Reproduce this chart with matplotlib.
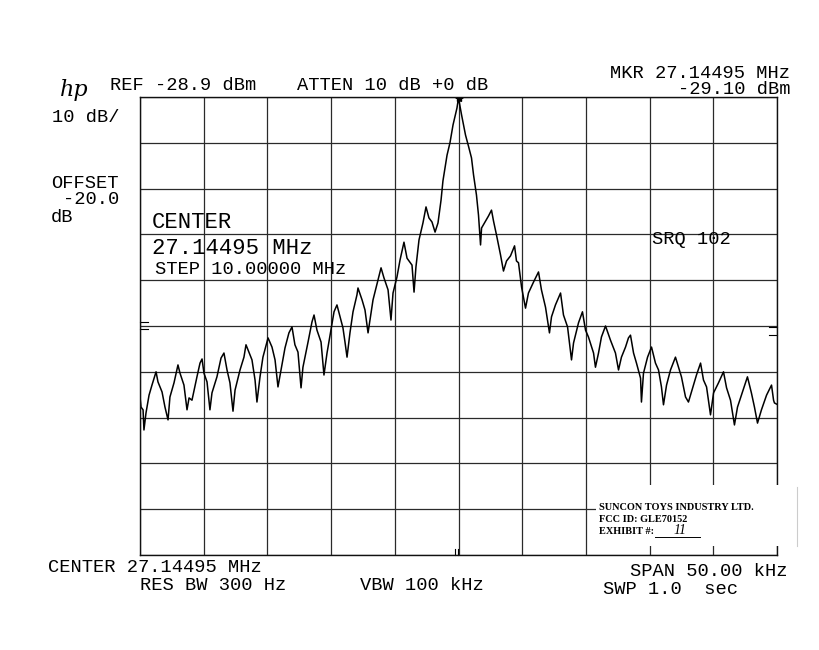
import matplotlib
matplotlib.use("Agg")
import matplotlib.pyplot as plt
from matplotlib.patches import Rectangle
import numpy as np

# spectrum analyser trace, offset from centre (kHz) and level (dBm)
freq_khz = [
    -25.0, -24.92, -24.76, -24.69, -24.53, -24.29, -24.06, -23.82, -23.74, -23.59,
    -23.27, -23.04, -22.80, -22.65, -22.33, -22.02, -21.86, -21.55, -21.31, -21.15,
    -20.92, -20.53, -20.29, -20.13, -19.98, -19.74, -19.51, -19.35, -18.96, -18.64,
    -18.41, -18.17, -17.94, -17.70, -17.54, -17.15, -16.84, -16.68, -16.37, -16.21,
    -15.97, -15.82, -15.58, -15.35, -14.95, -14.64, -14.40, -14.17, -13.93, -13.62,
    -13.31, -13.07, -12.84, -12.60, -12.36, -12.21, -11.81, -11.50, -11.34, -11.11,
    -10.79, -10.56, -10.32, -10.01, -9.77, -9.54, -9.30, -9.07, -8.91, -8.75,
    -8.52, -8.28, -7.97, -7.89, -7.57, -7.34, -7.10, -6.95, -6.71, -6.32,
    -6.08, -5.85, -5.53, -5.30, -5.14, -4.83, -4.59, -4.28, -4.04, -3.65,
    -3.49, -3.34, -3.10, -2.79, -2.55, -2.32, -2.08, -1.84, -1.61, -1.37,
    -1.22, -0.90, -0.67, -0.43, -0.12, 0.0, 0.24, 0.55, 0.78, 1.02,
    1.18, 1.41, 1.57, 1.73, 1.81, 2.12, 2.35, 2.59, 2.75, 2.98,
    3.30, 3.53, 3.77, 4.08, 4.40, 4.55, 4.71, 4.95, 5.26, 5.49,
    5.89, 6.28, 6.51, 6.83, 7.14, 7.30, 7.61, 8.01, 8.24, 8.56,
    8.87, 9.03, 9.42, 9.73, 9.97, 10.20, 10.60, 10.75, 10.99, 11.22,
    11.54, 11.93, 12.32, 12.56, 12.79, 13.11, 13.34, 13.50, 13.74, 13.97,
    14.29, 14.36, 14.52, 14.84, 15.15, 15.46, 15.70, 15.93, 16.09, 16.33,
    16.64, 17.03, 17.27, 17.50, 17.82, 18.05, 18.45, 18.68, 19.00, 19.23,
    19.47, 19.78, 20.02, 20.41, 20.80, 21.04, 21.35, 21.66, 21.90, 22.29,
    22.68, 22.99, 23.23, 23.47, 23.78, 24.18, 24.57, 24.73, 24.80, 25.0,
]
level_dbm = [
    -94.4, -96.6, -97.2, -101.6, -97.9, -94.0, -91.8, -89.6, -88.9, -91.1,
    -93.3, -96.6, -99.4, -94.4, -91.3, -87.4, -89.2, -91.8, -97.2, -94.6,
    -95.1, -90.0, -87.0, -86.1, -89.2, -91.1, -97.2, -93.5, -90.0, -85.9,
    -84.8, -88.5, -91.3, -97.5, -92.9, -88.5, -85.7, -83.0, -85.2, -86.3,
    -90.7, -95.5, -90.0, -85.7, -81.5, -83.5, -86.3, -92.2, -88.5, -83.7,
    -80.4, -79.1, -83.0, -84.6, -92.4, -87.9, -82.4, -78.0, -76.5, -79.8,
    -82.4, -89.6, -84.8, -79.8, -75.8, -74.3, -76.9, -79.3, -82.4, -85.7,
    -80.4, -75.8, -72.1, -70.6, -73.2, -75.4, -80.4, -77.6, -73.2, -68.9,
    -66.2, -68.4, -71.0, -77.6, -71.7, -68.2, -64.5, -60.6, -64.1, -65.6,
    -71.5, -66.0, -60.1, -56.4, -52.9, -55.3, -56.2, -58.4, -56.4, -51.4,
    -47.2, -41.6, -38.9, -35.0, -31.3, -29.1, -32.8, -37.2, -39.6, -42.2,
    -45.9, -50.3, -54.7, -61.2, -57.5, -56.0, -54.9, -53.6, -56.0, -59.0,
    -63.4, -66.9, -64.7, -63.6, -61.4, -64.7, -65.1, -70.4, -75.0, -71.7,
    -69.3, -67.1, -71.0, -74.8, -80.4, -76.9, -74.3, -71.7, -76.5, -79.1,
    -86.3, -82.6, -78.2, -75.8, -79.8, -81.3, -84.8, -87.9, -84.8, -81.3,
    -78.9, -82.0, -84.8, -88.5, -85.7, -83.5, -81.5, -80.9, -84.8, -87.0,
    -90.3, -95.5, -89.2, -85.7, -83.5, -87.0, -88.5, -92.2, -96.1, -91.8,
    -88.5, -85.7, -87.9, -90.0, -94.4, -95.5, -91.8, -89.6, -87.0, -90.7,
    -92.2, -98.3, -93.5, -91.3, -88.9, -92.4, -95.1, -100.5, -96.6, -93.3,
    -90.0, -93.5, -96.6, -100.1, -97.2, -94.0, -91.8, -95.1, -95.7, -96.0,
]

ref_level = -28.9
db_per_div = 10
span_khz = 50.0
marker_khz = 0.0
marker_dbm = -29.10

W, H = 819, 650
mono = "Liberation Mono"
fs = 13.5


def px(x, y):
    return x / W, 1 - y / H


fig = plt.figure(figsize=(W / 100, H / 100), dpi=100)
fig.set_facecolor("white")
ax = fig.add_axes([140 / W, 1 - 555 / H, 637 / W, 458 / H])

ax.plot(freq_khz, level_dbm, color="black", linewidth=1.1)
ax.plot([marker_khz], [marker_dbm], marker="*", color="black", markersize=6)

ax.set_xlim(-span_khz / 2, span_khz / 2)
ax.set_ylim(ref_level - 10 * db_per_div, ref_level)
ax.set_xticks(np.arange(-25, 26, 5))
ax.set_yticks(np.arange(ref_level - 100, ref_level + 1, db_per_div))
ax.grid(True, color="#2a2a2a", linewidth=0.9)
ax.tick_params(length=0, labelbottom=False, labelleft=False)
for sp in ax.spines.values():
    sp.set_color("#111111")
    sp.set_linewidth(1.0)

# small edge marks on the graticule
for yy in (0.509, 0.493):
    ax.plot([0, 0.012], [yy, yy], color="black", lw=0.8, transform=ax.transAxes, clip_on=False)
for yy in (0.498, 0.480):
    ax.plot([0.988, 1.0], [yy, yy], color="black", lw=0.8, transform=ax.transAxes, clip_on=False)
for xx in (0.4945, 0.4990):
    ax.plot([xx, xx], [0, 0.014], color="black", lw=0.8, transform=ax.transAxes, clip_on=False)

# header annotations
fig.text(*px(60, 90), "hp", fontsize=16, style="italic", family="DejaVu Serif", va="center")
fig.text(*px(110, 85), "REF -28.9 dBm", fontsize=fs, family=mono, va="center")
fig.text(*px(297, 86), "ATTEN 10 dB +0 dB", fontsize=fs, family=mono, va="center")
fig.text(*px(790, 73), "MKR 27.14495 MHz", fontsize=fs, family=mono, va="center", ha="right")
fig.text(*px(790, 90), "-29.10 dBm", fontsize=fs, family=mono, va="center", ha="right")
fig.text(*px(52, 117), "10 dB/", fontsize=fs, family=mono, va="center")
fig.text(*px(51, 183), "OFFSET", fontsize=fs, family=mono, va="center")
fig.text(*px(63, 200), "-20.0", fontsize=fs, family=mono, va="center")
fig.text(*px(51, 217), "dB", fontsize=fs, family=mono, va="center")

fig.text(*px(152, 222), "CENTER", fontsize=16, family=mono, va="center")
fig.text(*px(152, 248), "27.14495 MHz", fontsize=16, family=mono, va="center")
fig.text(*px(155, 269), "STEP 10.00000 MHz", fontsize=fs, family=mono, va="center")
fig.text(*px(652, 240), "SRQ 102", fontsize=fs, family=mono, va="center")

# footer annotations
fig.text(*px(48, 567), "CENTER 27.14495 MHz", fontsize=fs, family=mono, va="center")
fig.text(*px(140, 585), "RES BW 300 Hz", fontsize=fs, family=mono, va="center")
fig.text(*px(360, 586), "VBW 100 kHz", fontsize=fs, family=mono, va="center")
fig.text(*px(787, 572), "SPAN 50.00 kHz", fontsize=fs, family=mono, va="center", ha="right")
fig.text(*px(603, 589), "SWP 1.0  sec", fontsize=fs, family=mono, va="center")

# pasted exhibit label
fig.add_artist(Rectangle(px(596, 546), 204 / W, 61 / H, facecolor="white",
                         edgecolor="none", zorder=5))
fig.add_artist(plt.Line2D([797 / W, 797 / W], [1 - 546 / H, 1 - 487 / H],
                          color="#cccccc", lw=0.8, zorder=6))
serif = "Liberation Serif"
fig.text(*px(599, 508), "SUNCON TOYS INDUSTRY LTD.", fontsize=7.4, family=serif,
         weight="bold", va="center", zorder=7)
fig.text(*px(599, 520), "FCC ID: GLE70152", fontsize=7.4, family=serif, weight="bold",
         va="center", zorder=7)
fig.text(*px(599, 532), "EXHIBIT #:", fontsize=7.4, family=serif, weight="bold",
         va="center", zorder=7)
fig.add_artist(plt.Line2D([655 / W, 700 / W], [1 - 537 / H, 1 - 537 / H],
                          color="black", lw=0.7, zorder=7))
fig.text(*px(673, 530), "11", fontsize=10, style="italic", family=serif,
         va="center", zorder=7)

fig.savefig("out.png", dpi=100, facecolor="white")
